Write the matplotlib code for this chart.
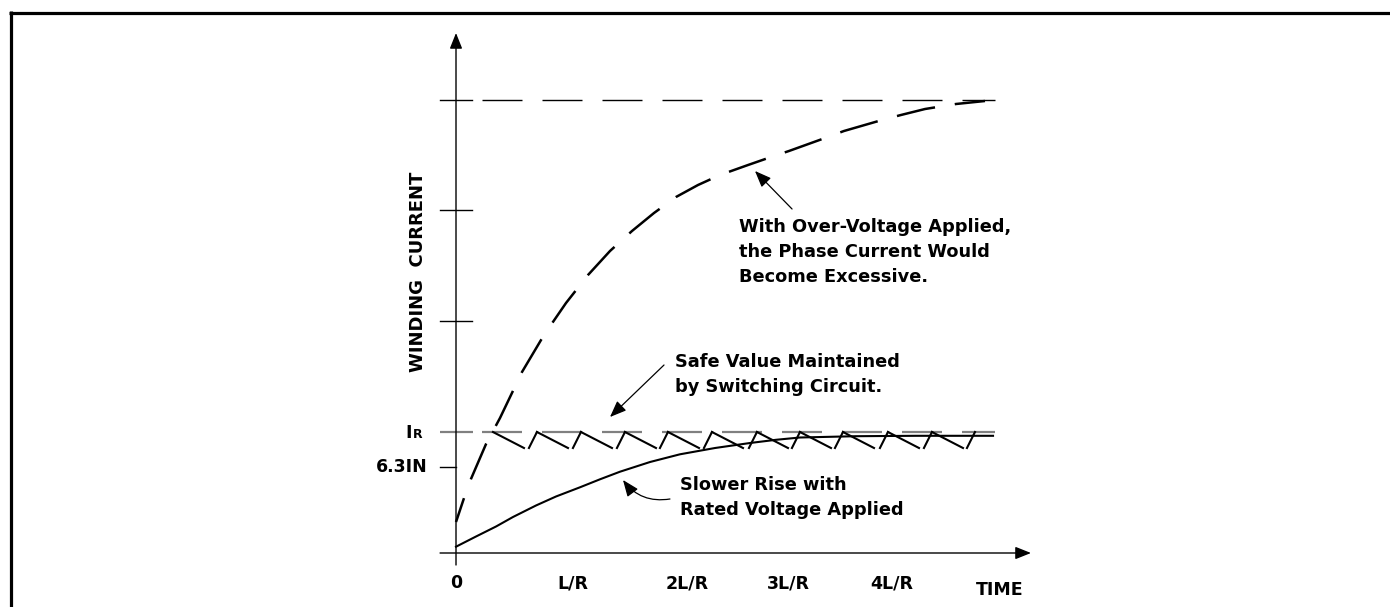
import matplotlib
matplotlib.use("Agg")
import matplotlib.pyplot as plt
from matplotlib.lines import Line2D

plt.rcParams['lines.scale_dashes'] = False
plt.rcParams['font.family'] = ['DejaVu Sans']
plt.rcParams['font.weight'] = 'bold'

# ---------------- data (time in L/R-ish units, current in arbitrary units) -------------
# rated-voltage winding current (solid curve)
rated_t = [0.0, 0.182, 0.364, 0.518, 0.727, 0.909, 1.127, 1.309, 1.491, 1.764, 2.036,
           2.355, 2.673, 2.909, 3.127, 3.636, 4.182, 4.882]
rated_i = [0.63, 1.65, 2.65, 3.6, 4.75, 5.65, 6.57, 7.37, 8.13, 9.1, 9.87,
           10.5, 11.0, 11.32, 11.55, 11.68, 11.72, 11.72]

# over-voltage winding current (dashed curve)
over_t = [0.0, 0.073, 0.136, 0.273, 0.4, 0.6, 0.8, 1.0, 1.2, 1.4, 1.6, 1.8, 2.0, 2.2,
          2.4, 2.655, 2.864, 3.027, 3.355, 3.527, 3.873, 4.045, 4.264, 4.545, 4.809]
over_i = [3.1, 5.5, 7.4, 10.9, 13.5, 18.1, 21.8, 25.0, 27.8, 30.2, 32.2, 34.0, 35.6, 36.8,
          37.8, 38.8, 39.6, 40.2, 41.5, 42.2, 43.3, 43.8, 44.4, 44.9, 45.2]

# chopper (switching circuit) sawtooth
saw_peaks = [0.336, 0.736, 1.136, 1.536, 1.927, 2.327, 2.736, 3.127, 3.518, 3.927, 4.327, 4.718]
saw_top = 12.1
saw_bottom = 10.5
saw_fall = 0.282
saw_rise = 0.073

# levels
i_rated = 12.1
i_63 = 8.6
grid_levels = [23.2, 34.3, 45.3]
i_excess = 45.3
t_end = 4.9

# x tick labels
time_tick_pos = [0.0, 1.065, 2.1, 3.02, 3.96]
time_tick_lab = ['0', 'L/R', '2L/R', '3L/R', '4L/R']

# ---------------- figure -------------
fig = plt.figure(figsize=(13.9, 6.07), dpi=100)
ax = fig.add_axes([0, 0, 1, 1])
ax.set_xlim(-4.1455, 8.4909)
ax.set_ylim(-5.4, 55.3)
ax.axis('off')

# frame (top and left edges)
W, H = 1390.0, 607.0
fig.add_artist(Line2D([9 / W, 1.0], [1 - 12.5 / H, 1 - 12.5 / H], color='black', lw=2.3,
                      transform=fig.transFigure, solid_capstyle='butt'))
fig.add_artist(Line2D([10.5 / W, 10.5 / W], [0, 1 - 11.0 / H], color='black', lw=2.3,
                      transform=fig.transFigure, solid_capstyle='butt'))

# axes with arrows
axis_kw = dict(arrowstyle='-|>,head_length=0.95,head_width=0.38', color='black', lw=1.0,
               mutation_scale=10, shrinkA=0, shrinkB=0)
ax.annotate('', xy=(5.227, 0), xytext=(-0.145, 0), arrowprops=axis_kw)
ax.annotate('', xy=(0, 52.0), xytext=(0, -1.2), arrowprops=axis_kw)

# y ticks
for lv in grid_levels:
    ax.plot([-0.145, 0.145], [lv, lv], color='black', lw=1.0)
ax.plot([-0.145, 0.0], [i_63, i_63], color='black', lw=1.0)

# horizontal dashed reference lines
dash_pat = (0, (28.8, 14.4))
ax.plot([0.236, t_end], [i_excess, i_excess], color='black', lw=1.0,
        linestyle=dash_pat, dash_capstyle='butt')
ax.plot([-0.145, 0.155], [i_rated, i_rated], color='#808080', lw=1.6, solid_capstyle='butt')
ax.plot([0.236, t_end], [i_rated, i_rated], color='#808080', lw=1.6,
        linestyle=dash_pat, dash_capstyle='butt')

# curves
ax.plot(rated_t, rated_i, color='black', lw=1.5)
ax.plot(over_t, over_i, color='black', lw=1.8, linestyle=(10.0, (28.1, 14.4)),
        dash_capstyle='butt')

# sawtooth
for k, p in enumerate(saw_peaks):
    if k < len(saw_peaks) - 1:
        ax.plot([p, p + saw_fall], [saw_top, saw_bottom], color='black', lw=1.5)
    if k > 0:
        ax.plot([p - saw_rise, p], [saw_bottom, saw_top], color='black', lw=1.5)

# tick labels
fs_tick = 12.5
for x, lab in zip(time_tick_pos, time_tick_lab):
    ax.text(x, -3.53, lab, ha='center', va='baseline', fontsize=fs_tick, fontweight='bold')
ax.text(4.945, -4.2, 'TIME', ha='center', va='baseline', fontsize=fs_tick, fontweight='bold')
ax.text(-0.255, 8.1, '6.3IN', ha='right', va='baseline', fontsize=fs_tick, fontweight='bold')
ax.text(-0.405, 11.53, 'I', ha='right', va='baseline', fontsize=fs_tick, fontweight='bold')
ax.text(-0.395, 11.53, 'R', ha='left', va='baseline', fontsize=9.0, fontweight='bold')

ax.text(-0.345, 28.1, 'WINDING  CURRENT', rotation=90, ha='center', va='center',
        fontsize=13.0, fontweight='bold')

# annotations (va='baseline' on multi-line text anchors the last line's baseline)
fs_ann = 12.8
ls_ann = 1.48
arr_kw = dict(arrowstyle='-|>,head_length=1.0,head_width=0.4', color='black', lw=0.9,
              mutation_scale=10, shrinkA=0, shrinkB=0)
ax.text(2.573, 27.13, 'With Over-Voltage Applied,\nthe Phase Current Would\nBecome Excessive.',
        ha='left', va='baseline', fontsize=fs_ann, fontweight='bold', linespacing=ls_ann)
ax.annotate('', xy=(2.718, 38.2), xytext=(3.055, 34.4), arrowprops=arr_kw)

ax.text(1.991, 16.13, 'Safe Value Maintained\nby Switching Circuit.',
        ha='left', va='baseline', fontsize=fs_ann, fontweight='bold', linespacing=ls_ann)
ax.annotate('', xy=(1.40, 13.6), xytext=(1.891, 18.8), arrowprops=arr_kw)

ax.text(2.036, 3.8, 'Slower Rise with\nRated Voltage Applied',
        ha='left', va='baseline', fontsize=fs_ann, fontweight='bold', linespacing=ls_ann)
arr3 = dict(arr_kw)
arr3['connectionstyle'] = 'arc3,rad=-0.3'
ax.annotate('', xy=(1.518, 7.3), xytext=(1.945, 5.4), arrowprops=arr3)

fig.savefig('out.png', dpi=100, facecolor='white')
